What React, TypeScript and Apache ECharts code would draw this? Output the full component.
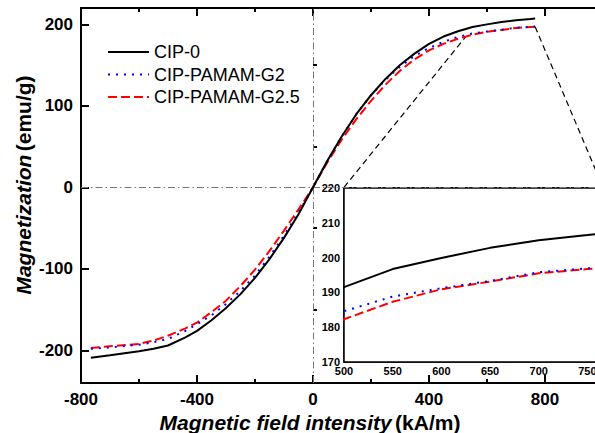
import React, { useEffect, useRef } from "react";
import * as echarts from "echarts";

// Magnetic field intensity (kA/m)
const fieldKAm = [-766, -700, -600, -550, -500, -440, -400, -350, -300, -250, -200, -150, -100, -50, 0, 50, 100, 150, 200, 250, 300, 350, 400, 450, 500, 550, 600, 650, 700, 750, 766];
// Magnetization (emu/g)
const cip0 = [-209, -206, -201, -198, -194, -184, -176, -163, -148, -131, -111, -88, -62, -33, 0, 33, 63, 90, 113, 133, 150, 164, 176, 185, 191.5, 196.7, 199.9, 202.8, 205, 206.5, 207];
const cipG2 = [-198, -196.5, -193, -190, -186, -176, -168, -157, -143, -127, -108, -85, -59, -31, 0, 33, 63, 90, 113, 132, 148, 161, 171, 178.5, 184.6, 188.8, 191.2, 193.3, 195.8, 196.9, 197.2];
const cipG25 = [-197, -195, -192, -188, -182, -173, -166, -153, -139, -121, -101, -78, -53, -27, 0, 31, 59, 84, 106, 126, 143, 157, 168, 176, 182.3, 187.3, 190.9, 193.1, 195.5, 196.7, 197.1];

const seriesNames = ["CIP-0", "CIP-PAMAM-G2", "CIP-PAMAM-G2.5"];

// main axes
const mainYLabels = [-200, -100, 0, 100, 200];
const mainYMinor = [-150, -50, 50, 150];
// zoom connector lines (main-axis coordinates)
const connectorA = [[107, 0], [527, 185]];
const connectorB = [[766, 197], [1000, 0]];

const FONT = "Liberation Sans, Arial, sans-serif";

function pairs(ys: number[]) {
  return fieldKAm.map((x, i) => [x, ys[i]]);
}

export default function App() {
  const ref = useRef<HTMLDivElement>(null);
  useEffect(() => {
    const chart = echarts.init(ref.current!, null, { renderer: "svg" });
    const axisLineMain = { show: true, onZero: false, lineStyle: { color: "#000", width: 2 } };
    const axisLineInset = { show: true, onZero: false, lineStyle: { color: "#000", width: 1.5 } };
    const mainLabel = { color: "#000", fontSize: 17, fontWeight: "bold", fontFamily: FONT, margin: 8 };
    const insetLabel = { color: "#000", fontSize: 11, fontWeight: "bold", fontFamily: FONT };

    const styles = [
      { color: "#000000", type: "solid" as any },
      { color: "#0000ff", type: [2, 6] as any },
      { color: "#ff0000", type: [9, 4] as any },
    ];
    const datas = [cip0, cipG2, cipG25];

    const mainSeries = datas.map((d, i) => ({
      name: seriesNames[i],
      type: "line",
      xAxisIndex: 0,
      yAxisIndex: 0,
      data: pairs(d),
      symbol: "none",
      showSymbol: false,
      smooth: false,
      lineStyle: { color: styles[i].color, width: 2, type: styles[i].type },
      itemStyle: { color: styles[i].color },
      z: 5 - i,
    }));
    const insetSeries = datas.map((d, i) => ({
      name: seriesNames[i],
      type: "line",
      xAxisIndex: 2,
      yAxisIndex: 2,
      data: pairs(d),
      symbol: "none",
      showSymbol: false,
      clip: true,
      lineStyle: { color: styles[i].color, width: 2, type: styles[i].type },
      itemStyle: { color: styles[i].color },
      z: 5 - i,
    }));

    const option: any = {
      animation: false,
      backgroundColor: "#fff",
      legend: {
        data: seriesNames,
        orient: "vertical",
        left: 102,
        top: 38,
        itemWidth: 41,
        itemHeight: 10,
        itemGap: 4.5,
        itemStyle: { opacity: 0 },
        textStyle: { fontSize: 18, fontFamily: FONT, color: "#000", lineHeight: 18 },
      },
      grid: [
        { left: 81, top: 8, width: 522, height: 375, show: false },
        { left: 344, top: 188, width: 259, height: 174, show: true, backgroundColor: "#fff", borderColor: "#000", borderWidth: 1.5, z: 3 },
      ],
      xAxis: [
        {
          type: "value", gridIndex: 0, position: "bottom", min: -800, max: 1000, interval: 400,
          axisLine: axisLineMain,
          axisTick: { show: true, inside: true, length: 8, lineStyle: { color: "#000", width: 2 } },
          minorTick: { show: true, splitNumber: 2, length: 4, lineStyle: { color: "#000", width: 2 } },
          axisLabel: { ...mainLabel, formatter: (v: number) => (v % 400 === 0 && v <= 800 ? String(v) : "") },
          splitLine: { show: false }, minorSplitLine: { show: false },
        },
        {
          type: "value", gridIndex: 0, position: "top", min: -800, max: 1000, interval: 400,
          axisLine: axisLineMain,
          axisTick: { show: true, inside: true, length: 8, lineStyle: { color: "#000", width: 2 } },
          minorTick: { show: true, splitNumber: 2, length: 4, lineStyle: { color: "#000", width: 2 } },
          axisLabel: { show: false },
          splitLine: { show: false },
        },
        {
          type: "value", gridIndex: 1, position: "bottom", min: 500, max: 766, interval: 50,
          axisLine: axisLineInset,
          axisTick: { show: true, inside: true, length: 4, lineStyle: { color: "#000", width: 1 } },
          minorTick: { show: true, splitNumber: 2, length: 3, lineStyle: { color: "#000", width: 1 } },
          axisLabel: { ...insetLabel, margin: 3, formatter: (v: number) => (v % 50 === 0 ? String(v) : "") },
          splitLine: { show: false },
        },
        {
          type: "value", gridIndex: 1, position: "top", min: 500, max: 766, interval: 50,
          axisLine: axisLineInset,
          axisTick: { show: true, inside: true, length: 4, lineStyle: { color: "#000", width: 1 } },
          minorTick: { show: true, splitNumber: 2, length: 3, lineStyle: { color: "#000", width: 1 } },
          axisLabel: { show: false },
          splitLine: { show: false },
        },
      ],
      yAxis: [
        {
          type: "value", gridIndex: 0, position: "left", min: -240, max: 220,
          axisLine: axisLineMain,
          axisTick: { show: true, inside: true, length: 8, customValues: mainYLabels, lineStyle: { color: "#000", width: 2 } },
          axisLabel: { ...mainLabel, customValues: mainYLabels },
          splitLine: { show: false },
        },
        {
          type: "value", gridIndex: 0, position: "left", min: -240, max: 220,
          axisLine: { show: false },
          axisTick: { show: true, inside: true, length: 4, customValues: mainYMinor, lineStyle: { color: "#000", width: 2 } },
          axisLabel: { show: false },
          splitLine: { show: false },
        },
        {
          type: "value", gridIndex: 1, position: "left", min: 170, max: 220, interval: 10,
          axisLine: axisLineInset,
          axisTick: { show: true, inside: true, length: 4, lineStyle: { color: "#000", width: 1 } },
          minorTick: { show: true, splitNumber: 2, length: 2, lineStyle: { color: "#000", width: 1 } },
          axisLabel: { ...insetLabel, margin: 4 },
          splitLine: { show: false },
        },
      ],
      graphic: [
        {
          type: "text", x: 310, y: 422, z: 10,
          style: {
            text: "{a|Magnetic field intensity} {b|(kA/m)}",
            textAlign: "center", textVerticalAlign: "middle",
            rich: {
              a: { fontSize: 21, fontWeight: "bold", fontStyle: "italic", fontFamily: FONT, fill: "#000" },
              b: { fontSize: 21, fontWeight: "bold", fontFamily: FONT, fill: "#000" },
            },
          },
        },
        {
          type: "text", x: 23, y: 185, rotation: Math.PI / 2, z: 10,
          style: {
            text: "{a|Magnetization} {b|(emu/g)}",
            textAlign: "center", textVerticalAlign: "middle",
            rich: {
              a: { fontSize: 21, fontWeight: "bold", fontStyle: "italic", fontFamily: FONT, fill: "#000" },
              b: { fontSize: 21, fontWeight: "bold", fontFamily: FONT, fill: "#000" },
            },
          },
        },
      ],
      series: [
        {
          name: "refLines", type: "line", xAxisIndex: 0, yAxisIndex: 0, data: [], symbol: "none", silent: true,
          markLine: {
            silent: true, symbol: ["none", "none"], label: { show: false },
            lineStyle: { color: "#777", type: [7, 3, 1.5, 3], width: 1 },
            data: [{ xAxis: 0 }, { yAxis: 0 }],
          },
        },
        {
          name: "zoomA", type: "line", xAxisIndex: 0, yAxisIndex: 0, data: connectorA, symbol: "none", silent: true,
          lineStyle: { color: "#000", type: [6, 4], width: 1.2 }, z: 1,
        },
        {
          name: "zoomB", type: "line", xAxisIndex: 0, yAxisIndex: 0, data: connectorB, symbol: "none", silent: true,
          lineStyle: { color: "#000", type: [6, 4], width: 1.2 }, z: 1,
        },
        ...mainSeries,
        ...insetSeries,
      ],
    };
    chart.setOption(option);
    return () => chart.dispose();
  }, []);
  return (
    <div style={{ position: "fixed", left: 0, top: 0, width: 595, height: 433, overflow: "hidden", background: "#fff" }}>
      <div ref={ref} style={{ width: 610, height: 433 }} />
    </div>
  );
}
